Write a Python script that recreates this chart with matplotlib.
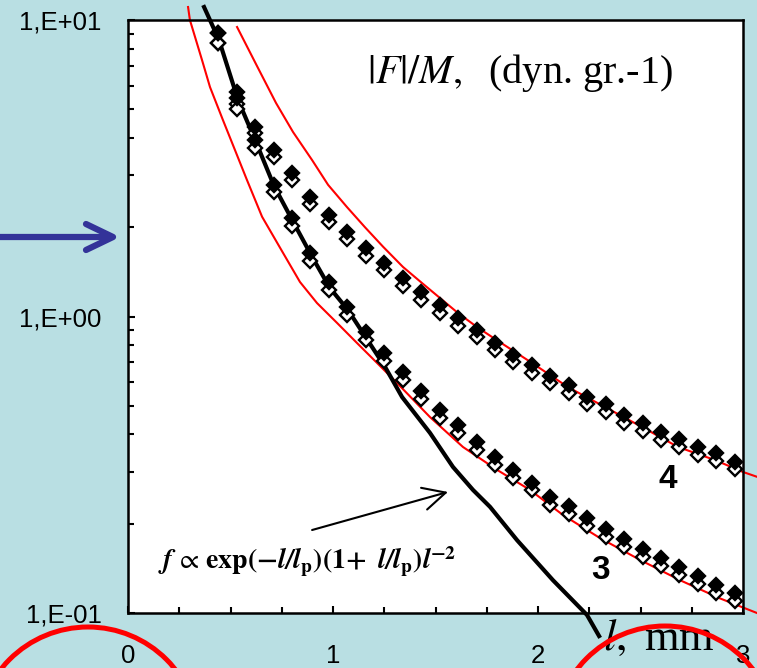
import matplotlib
matplotlib.use("Agg")
import matplotlib.pyplot as plt
from matplotlib.lines import Line2D
from matplotlib.patches import Ellipse
from matplotlib.ticker import FixedLocator, FixedFormatter, MultipleLocator, LogLocator, NullFormatter

# measured points (l in mm), same x for series 3 and 4
L_POINTS = [0.44, 0.53, 0.62, 0.71, 0.80, 0.89, 0.98, 1.07, 1.16, 1.25,
            1.34, 1.43, 1.52, 1.61, 1.70, 1.79, 1.88, 1.97, 2.06, 2.15,
            2.24, 2.33, 2.42, 2.51, 2.60, 2.69, 2.78, 2.87, 2.96]

S4_FILLED = [9.04, 5.72, 4.36, 3.64, 3.05, 2.53, 2.20, 1.93, 1.70, 1.515,
             1.349, 1.21, 1.093, 0.988, 0.901, 0.814, 0.742, 0.686, 0.630, 0.587,
             0.535, 0.507, 0.465, 0.437, 0.408, 0.386, 0.363, 0.346, 0.323]
S4_OPEN = [8.36, 5.20, 4.15, 3.45, 2.88, 2.40, 2.08, 1.82, 1.60, 1.43,
           1.27, 1.14, 1.03, 0.93, 0.85, 0.77, 0.70, 0.645, 0.595, 0.553,
           0.505, 0.478, 0.438, 0.412, 0.384, 0.363, 0.342, 0.326, 0.305]

S3_FILLED = [9.04, 5.46, 3.94, 2.78, 2.15, 1.64, 1.307, 1.077, 0.887, 0.753,
             0.650, 0.561, 0.484, 0.431, 0.377, 0.336, 0.304, 0.275, 0.246, 0.2296,
             0.209, 0.192, 0.178, 0.164, 0.153, 0.143, 0.133, 0.124, 0.117]
S3_OPEN = [8.36, 5.01, 3.70, 2.62, 2.02, 1.54, 1.23, 1.01, 0.835, 0.708,
           0.611, 0.527, 0.455, 0.405, 0.355, 0.316, 0.286, 0.259, 0.232, 0.216,
           0.197, 0.181, 0.167, 0.154, 0.144, 0.134, 0.125, 0.117, 0.110]

# theory curve f ~ exp(-l/lp)(1+l/lp)l^-2 (black)
THEORY_L = [0.371, 0.444, 0.537, 0.624, 0.712, 0.805, 0.898, 0.985, 1.073, 1.146,
            1.254, 1.337, 1.473, 1.585, 1.683, 1.766, 1.898, 2.073, 2.239, 2.298]
THEORY_F = [11.06, 8.56, 5.37, 3.88, 2.76, 2.09, 1.59, 1.248, 1.052, 0.880,
            0.676, 0.535, 0.405, 0.311, 0.260, 0.228, 0.176, 0.129, 0.0985, 0.0836]

# red fits
FIT3_L = [0.293, 0.302, 0.361, 0.400, 0.463, 0.522, 0.580, 0.654, 0.756, 0.839,
          0.922, 1.020, 1.117, 1.215, 1.312, 1.473, 1.634, 1.800, 1.961, 2.122,
          2.302, 2.498, 2.693, 2.888, 3.068]
FIT3_F = [11.06, 10.0, 7.33, 5.94, 4.60, 3.64, 2.89, 2.17, 1.64, 1.307,
          1.11, 0.951, 0.814, 0.697, 0.597, 0.458, 0.363, 0.304, 0.260, 0.214,
          0.179, 0.151, 0.129, 0.112, 0.100]

FIT4_L = [0.532, 0.629, 0.722, 0.805, 0.898, 0.976, 1.068, 1.156, 1.244, 1.341,
          1.434, 1.522, 1.610, 1.702, 1.790, 1.971, 2.146, 2.327, 2.507, 2.683,
          2.863, 3.000, 3.068]
FIT4_F = [9.47, 7.00, 5.25, 4.19, 3.37, 2.78, 2.34, 2.00, 1.72, 1.47,
          1.297, 1.154, 1.027, 0.922, 0.840, 0.697, 0.578, 0.495, 0.424, 0.363,
          0.328, 0.299, 0.288]

X_TICKS = [0, 1, 2, 3]
X_TICK_LABELS = ["0", "1", "2", "3"]
Y_TICKS = [0.1, 1, 10]
Y_TICK_LABELS = ["1,E-01", "1,E+00", "1,E+01"]

BG = "#B9DFE3"
W, H = 757, 668

plt.rcParams["mathtext.fontset"] = "stix"
plt.rcParams["font.family"] = ["Liberation Sans", "DejaVu Sans"]

fig = plt.figure(figsize=(W / 100, H / 100), dpi=100, facecolor=BG)
ax = fig.add_axes([128 / W, 1 - 613 / H, 615 / W, 593 / H])
ax.set_facecolor("white")

ax.plot(FIT3_L, FIT3_F, color="red", lw=1.5, clip_on=False, zorder=2)
ax.plot(FIT4_L, FIT4_F, color="red", lw=1.5, clip_on=False, zorder=2)
ax.plot(THEORY_L, THEORY_F, color="black", lw=3.0, clip_on=False, zorder=3)

mk = dict(marker="D", markersize=7.6, markeredgewidth=1.7, linestyle="none",
          markeredgecolor="black", clip_on=False)
ax.plot(L_POINTS, S4_OPEN, markerfacecolor="white", zorder=4, **mk)
ax.plot(L_POINTS, S3_OPEN, markerfacecolor="white", zorder=4, **mk)
ax.plot(L_POINTS, S4_FILLED, markerfacecolor="black", zorder=5, **mk)
ax.plot(L_POINTS, S3_FILLED, markerfacecolor="black", zorder=5, **mk)

ax.set_yscale("log")
ax.set_xlim(0, 3)
ax.set_ylim(0.1, 10)

ax.xaxis.set_major_locator(FixedLocator(X_TICKS))
ax.xaxis.set_major_formatter(FixedFormatter(X_TICK_LABELS))
ax.xaxis.set_minor_locator(MultipleLocator(0.25))
ax.yaxis.set_major_locator(FixedLocator(Y_TICKS))
ax.yaxis.set_major_formatter(FixedFormatter(Y_TICK_LABELS))
ax.yaxis.set_minor_locator(LogLocator(base=10, subs=range(2, 10)))
ax.yaxis.set_minor_formatter(NullFormatter())

ax.tick_params(axis="both", which="both", direction="in", width=1.5, colors="black")
ax.tick_params(axis="both", which="major", length=5, labelsize=18.5)
ax.tick_params(axis="both", which="minor", length=4)
ax.tick_params(axis="x", which="major", pad=22)
ax.tick_params(axis="y", which="major", pad=19)
for s in ax.spines.values():
    s.set_linewidth(1.8)
    s.set_zorder(6)

ax.text(0.389, 0.893, r"$|F|/M,$  (dyn. gr.-1)", transform=ax.transAxes,
        fontsize=29, family="Liberation Serif", ha="left", va="baseline")
ax.text(0.049, 0.074,
        r"$\mathbfit{f}\,\propto\,\mathbf{exp(-}\mathbfit{l/l}_\mathbf{p}\mathbf{)(1\!+\ }"
        r"\mathbfit{l/l}_\mathbf{p}\mathbf{)}\mathbfit{l}^\mathbf{-2}$",
        transform=ax.transAxes, fontsize=20, ha="left", va="baseline")
ax.text(0.877, 0.225, "4", transform=ax.transAxes, fontsize=24,
        fontweight="bold", ha="center", va="center")
ax.text(0.768, 0.072, "3", transform=ax.transAxes, fontsize=24,
        fontweight="bold", ha="center", va="center")
ax.text(0.773, -0.062, r"$l,$ mm", transform=ax.transAxes, fontsize=32,
        family="Liberation Serif", ha="left", va="baseline", clip_on=False)

ax.annotate("", xy=(1.561, 0.256), xytext=(0.898, 0.1905),
            arrowprops=dict(arrowstyle="->,head_length=0.9,head_width=0.45",
                            lw=1.5, color="black", mutation_scale=18,
                            shrinkA=0, shrinkB=0))

# blue arrow pointing at the axis
blue = "#333399"
fig.add_artist(Line2D([0, 110 / W], [1 - 237 / H, 1 - 237 / H], color=blue, lw=4.5,
                      solid_capstyle="round", transform=fig.transFigure))
fig.add_artist(Line2D([86 / W, 113 / W, 86 / W],
                      [1 - 224 / H, 1 - 237 / H, 1 - 250 / H], color=blue, lw=4.5,
                      solid_capstyle="round", solid_joinstyle="round",
                      transform=fig.transFigure))

# red circles at the bottom
for cx, cy in [(88, 738), (665, 737)]:
    fig.add_artist(Ellipse((cx / W, 1 - cy / H), 222 / W, 222 / H, fill=False,
                           edgecolor="red", lw=3.6, transform=fig.transFigure))

fig.savefig("out.png", dpi=100, facecolor=BG)
